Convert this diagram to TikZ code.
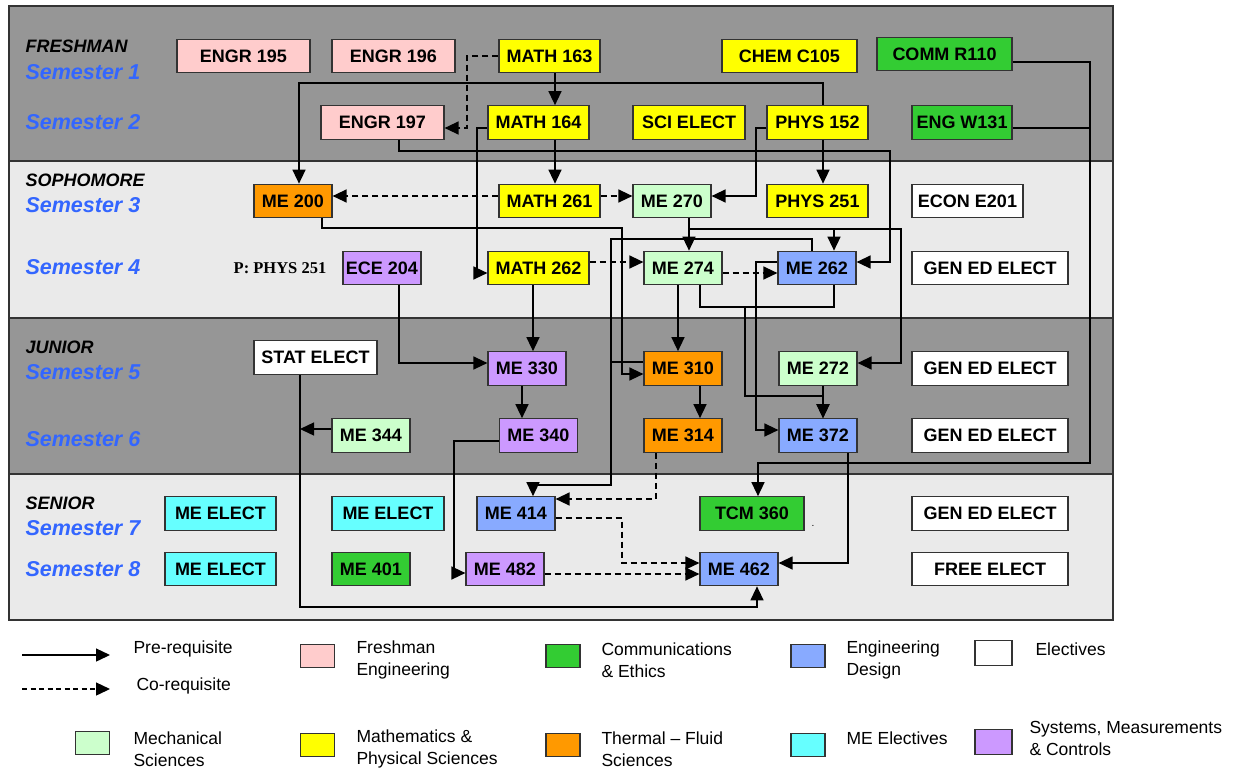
\documentclass[tikz,border=0pt]{standalone}
\usepackage{fontspec}
\setmainfont{Liberation Sans}
\newfontfamily\serifbold{Liberation Serif}
\usepackage{tikz}
\usetikzlibrary{arrows.meta}
\definecolor{bandDark}{HTML}{969696}
\definecolor{bandLight}{HTML}{EAEAEA}
\definecolor{semBlue}{HTML}{3366FF}
\definecolor{freshpink}{HTML}{FFCCCC}
\definecolor{mathyellow}{HTML}{FFFF00}
\definecolor{commgreen}{HTML}{33CC33}
\definecolor{thermorange}{HTML}{FF9900}
\definecolor{mechgreen}{HTML}{CCFFCC}
\definecolor{designblue}{HTML}{88AAFF}
\definecolor{electcyan}{HTML}{66FFFF}
\definecolor{smcpurple}{HTML}{CC99FF}
\newcommand{\boxfont}{\fontsize{18}{18}\selectfont\bfseries}
\newcommand{\yearfont}{\fontsize{18}{18}\selectfont\bfseries\itshape}
\newcommand{\semfont}{\fontsize{21.5}{22}\selectfont\bfseries\itshape}
\newcommand{\legfont}{\fontsize{17.5}{22}\selectfont}

\begin{document}
\begin{tikzpicture}[x=1pt,y=-1pt,
  course/.style={draw=black!80,line width=1.2pt,minimum height=33.5pt,inner sep=0pt,font=\boxfont},
  swatch/.style={draw=black!80,line width=1.2pt,minimum width=34pt,minimum height=23pt,inner sep=0pt},
  pre/.style={draw,line width=1.4pt,-{Triangle[length=14pt,width=13pt]}},
  co/.style={pre,dash pattern=on 6pt off 4pt},
  link/.style={draw,line width=1.4pt},
  year/.style={anchor=west,font=\yearfont},
  sem/.style={anchor=west,font=\semfont,text=semBlue},
  legtext/.style={anchor=west,align=left,font=\legfont}]
\useasboundingbox (0,0) rectangle (1246,772);
% bands
\draw[fill=bandDark,draw=black!80,line width=1.4pt] (9,6) rectangle (1113,161);
\draw[fill=bandLight,draw=black!80,line width=1.4pt] (9,161) rectangle (1113,318);
\draw[fill=bandDark,draw=black!80,line width=1.4pt] (9,318) rectangle (1113,474);
\draw[fill=bandLight,draw=black!80,line width=1.4pt] (9,474) rectangle (1113,620);
% year and semester labels
\node[year] (fr) at (22,46) {FRESHMAN};
\node[sem] (s1) at (22,72) {Semester 1};
\node[sem] (s2) at (22,122) {Semester 2};
\node[year] (so) at (22,180) {SOPHOMORE};
\node[sem] (s3) at (22,205) {Semester 3};
\node[sem] (s4) at (22,267) {Semester 4};
\node[year] (ju) at (22,347) {JUNIOR};
\node[sem] (s5) at (22,372) {Semester 5};
\node[sem] (s6) at (22,439) {Semester 6};
\node[year] (se) at (22,503) {SENIOR};
\node[sem] (s7) at (22,528) {Semester 7};
\node[sem] (s8) at (22,569) {Semester 8};
% semester 1
\node[course,fill=freshpink,minimum width=133pt] (engr195) at (243.5,56) {ENGR 195};
\node[course,fill=freshpink,minimum width=123pt] (engr196) at (393.5,56) {ENGR 196};
\node[course,fill=mathyellow,minimum width=101pt] (math163) at (549.5,56) {MATH 163};
\node[course,fill=mathyellow,minimum width=135pt] (chem) at (789.5,56) {CHEM C105};
\node[course,fill=commgreen,minimum width=135pt] (comm) at (944.5,54) {COMM R110};
% semester 2
\node[course,fill=freshpink,minimum width=123pt] (engr197) at (382.5,122.5) {ENGR 197};
\node[course,fill=mathyellow,minimum width=101pt] (math164) at (538.5,122.5) {MATH 164};
\node[course,fill=mathyellow,minimum width=112pt] (scielect) at (689,122.5) {SCI ELECT};
\node[course,fill=mathyellow,minimum width=101pt] (phys152) at (817.5,122.5) {PHYS 152};
\node[course,fill=commgreen,minimum width=100pt] (engw131) at (962,122.5) {ENG W131};
% semester 3
\node[course,fill=thermorange,minimum width=78pt] (me200) at (293,201) {ME 200};
\node[course,fill=mathyellow,minimum width=101pt] (math261) at (549.5,201) {MATH 261};
\node[course,fill=mechgreen,minimum width=78pt] (me270) at (672,201) {ME 270};
\node[course,fill=mathyellow,minimum width=101pt] (phys251) at (817.5,201) {PHYS 251};
\node[course,fill=white,minimum width=111pt] (econ) at (967.5,201) {ECON E201};
% semester 4
\node[font=\serifbold\bfseries\fontsize{16.5}{17}\selectfont] (pnote) at (280,268) {P: PHYS 251};
\node[course,fill=smcpurple,minimum width=78pt] (ece204) at (382,268) {ECE 204};
\node[course,fill=mathyellow,minimum width=101pt] (math262) at (538.5,268) {MATH 262};
\node[course,fill=mechgreen,minimum width=78pt] (me274) at (683,268) {ME 274};
\node[course,fill=designblue,minimum width=78pt] (me262) at (817,268) {ME 262};
\node[course,fill=white,minimum width=156pt] (gened4) at (990,268) {GEN ED ELECT};
% semester 5
\node[course,fill=white,minimum width=123pt] (stat) at (315.5,357.5) {STAT ELECT};
\node[course,fill=smcpurple,minimum width=78pt] (me330) at (527,368.5) {ME 330};
\node[course,fill=thermorange,minimum width=78pt] (me310) at (683,368.5) {ME 310};
\node[course,fill=mechgreen,minimum width=78pt] (me272) at (818,368.5) {ME 272};
\node[course,fill=white,minimum width=156pt] (gened5) at (990,368.5) {GEN ED ELECT};
% semester 6
\node[course,fill=mechgreen,minimum width=78pt] (me344) at (371,435.5) {ME 344};
\node[course,fill=smcpurple,minimum width=78pt] (me340) at (538.5,435.5) {ME 340};
\node[course,fill=thermorange,minimum width=78pt] (me314) at (683,435.5) {ME 314};
\node[course,fill=designblue,minimum width=78pt] (me372) at (818,435.5) {ME 372};
\node[course,fill=white,minimum width=156pt] (gened6) at (990,435.5) {GEN ED ELECT};
% semester 7
\node[course,fill=electcyan,minimum width=111pt] (meel7a) at (220.5,513.5) {ME ELECT};
\node[course,fill=electcyan,minimum width=112pt] (meel7b) at (388,513.5) {ME ELECT};
\node[course,fill=designblue,minimum width=78pt] (me414) at (516,513.5) {ME 414};
\node[course,fill=commgreen,minimum width=104pt] (tcm360) at (752,513.5) {TCM 360};
\node[font=\fontsize{10}{10}\selectfont,inner sep=0pt] (dot) at (813,526) {.};
\node[course,fill=white,minimum width=156pt] (gened7) at (990,513.5) {GEN ED ELECT};
% semester 8
\node[course,fill=electcyan,minimum width=111pt] (meel8) at (220.5,569) {ME ELECT};
\node[course,fill=commgreen,minimum width=78pt] (me401) at (371,569) {ME 401};
\node[course,fill=smcpurple,minimum width=78pt] (me482) at (505,569) {ME 482};
\node[course,fill=designblue,minimum width=78pt] (me462) at (739,569) {ME 462};
\node[course,fill=white,minimum width=156pt] (free) at (990,569) {FREE ELECT};
% requisites
\draw[co] (math163.west) -| (467,128) -- (engr197.east |- 0,128);
\draw[pre] (math163.south -| 555,0) -- (math164.north -| 555,0);
\draw[pre] (phys152.north -| 823,0) |- (299,83) -- (me200.north -| 299,0);
\draw[pre] (math164.south -| 555,0) -- (math261.north -| 555,0);
\draw[pre] (math164.west |- 0,128) -| (477,273) -- (math262.west |- 0,273);
\draw[pre] (engr197.south -| 399,0) |- (890,151) |- (me262.east |- 0,262);
\draw[pre] (phys152.west |- 0,128) -| (756,196) -- (me270.east |- 0,196);
\draw[pre] (phys152.south -| 823,0) -- (phys251.north -| 823,0);
\draw[co] (math261.west |- 0,196) -- (me200.east |- 0,196);
\draw[co] (math261.east |- 0,196) -- (me270.west |- 0,196);
\draw[pre] (me200.south -| 322,0) |- (622,228) |- (me310.west |- 0,374);
\draw[pre] (me270.south -| 689,0) -- (me274.north -| 689,0);
\draw[pre] (me270.south -| 689,0) |- (834,229) -- (me262.north -| 834,0);
\draw[pre] (me270.south -| 689,0) |- (901,229) |- (me272.east |- 0,363);
\draw[co] (math262.east |- 0,262) -- (me274.west |- 0,262);
\draw[co] (me274.east |- 0,273) -- (me262.west |- 0,273);
\draw[pre] (math262.south -| 533,0) -- (me330.north -| 533,0);
\draw[pre] (ece204.south -| 399,0) |- (me330.west |- 0,363);
\draw[pre] (me274.south -| 678,0) -- (me310.north -| 678,0);
\draw[link] (me274.south -| 700,0) |- (834,307) -- (me262.south -| 834,0);
\coordinate (j1) at (745,307);
\draw[pre] (j1) |- (823,396) -- (me372.north -| 823,0);
\draw[pre] (me272.south -| 823,0) -- (me372.north -| 823,0);
\draw[pre] (me262.west |- 0,262) -| (756,430) -- (me372.west |- 0,430);
\draw[pre] (me310.south -| 700,0) -- (me314.north -| 700,0);
\draw[pre] (me330.south -| 522,0) -- (me340.north -| 522,0);
\draw[pre] (me262.north -| 812,0) |- (611,239) |- (533,485) -- (me414.north -| 533,0);
\draw[link] (me310.west |- 0,362) -- (611,362);
\draw[co] (me314.south -| 656,0) |- (me414.east |- 0,499);
\draw[co] (me414.east |- 0,518) -| (622,563) -- (me462.west |- 0,563);
\draw[co] (me482.east |- 0,574) -- (me462.west |- 0,574);
\draw[pre] (me340.west |- 0,441) -| (454,573) -- (me482.west |- 0,573);
\draw[pre] (stat.south -| 300,0) |- (757,607) -- (me462.south -| 757,0);
\coordinate (j2) at (300,429);
\draw[pre] (me344.west |- 0,429) -- (j2);
\draw[pre] (me372.south -| 848,0) |- (me462.east |- 0,563);
\draw[pre] (comm.east |- 0,62) -| (1090,463) -| (tcm360.north -| 758,0);
\draw[link] (engw131.east |- 0,128) -- (1090,128);
% legend
\coordinate (lg1a) at (22,655);
\coordinate (lg1b) at (110,655);
\coordinate (lg2a) at (22,689);
\coordinate (lg2b) at (110,689);
\draw[pre] (lg1a) -- (lg1b);
\draw[co,dash pattern=on 5pt off 3.5pt] (lg2a) -- (lg2b);
\node[legtext] (tpre) at (130,649) {Pre-requisite};
\node[legtext] (tco) at (133,686) {Co-requisite};
\node[swatch,fill=freshpink] (kfresh) at (317.5,656) {};
\node[legtext] (tfresh) at (353,660) {Freshman\\Engineering};
\node[swatch,fill=commgreen] (kcomm) at (563,656) {};
\node[legtext] (tcomm) at (598,660) {Communications\\\& Ethics};
\node[swatch,fill=designblue] (kdesign) at (808,656) {};
\node[legtext] (tdesign) at (843,660) {Engineering\\Design};
\node[swatch,fill=white,minimum width=37pt,minimum height=25pt] (kelect) at (993.5,653) {};
\node[legtext] (telect) at (1032,649) {Electives};
\node[swatch,fill=mechgreen] (kmech) at (92.5,743) {};
\node[legtext] (tmech) at (130,749) {Mechanical\\Sciences};
\node[swatch,fill=mathyellow] (kmath) at (317.5,745) {};
\node[legtext] (tmath) at (353,749) {Mathematics \&\\Physical Sciences};
\node[swatch,fill=thermorange] (ktherm) at (563,745) {};
\node[legtext] (ttherm) at (598,749) {Thermal -- Fluid\\Sciences};
\node[swatch,fill=electcyan] (kmeel) at (808,745) {};
\node[legtext] (tmeel) at (843,738) {ME Electives};
\node[swatch,fill=smcpurple,minimum width=37pt,minimum height=25pt] (ksmc) at (993.5,742) {};
\node[legtext] (tsmc) at (1026,738) {Systems, Measurements\\\& Controls};
\end{tikzpicture}
\end{document}
